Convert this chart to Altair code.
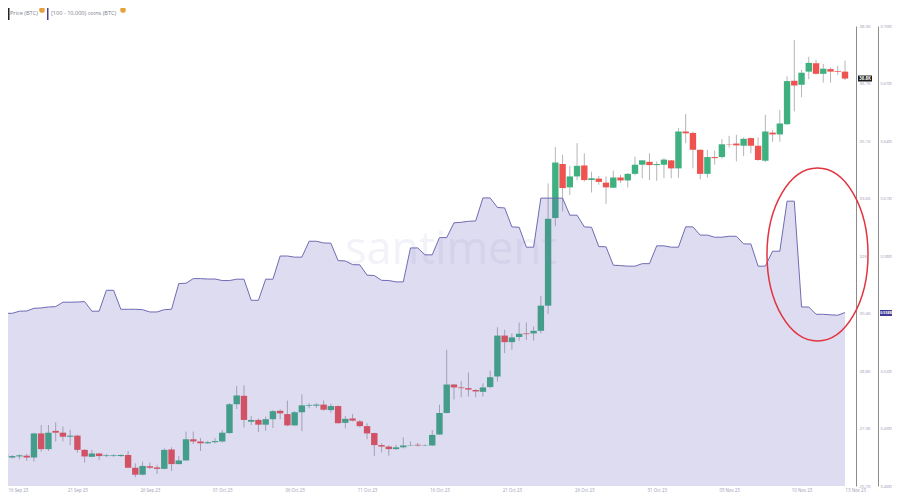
import altair as alt
import pandas as pd

OPEN = [26.57,26.48,26.51,26.53,26.48,27.14,26.71,27.21,27.16,27.05,27.08,26.69,26.50,26.59,26.52,26.52,26.52,26.55,26.20,26.01,
26.24,26.21,26.17,26.70,26.30,26.40,26.98,26.92,26.87,26.90,26.92,27.15,27.94,28.17,27.46,27.51,27.38,27.53,27.76,27.67,
27.36,27.72,27.90,27.90,27.93,27.78,27.89,27.43,27.55,27.47,27.34,27.15,26.82,26.78,26.71,26.76,26.81,26.83,26.80,26.81,
27.11,27.70,28.48,28.40,28.38,28.33,28.28,28.41,28.70,29.82,29.64,29.78,29.88,29.88,29.95,30.64,33.04,34.52,33.88,34.18,
34.48,34.08,34.12,34.01,33.87,34.15,34.07,34.25,34.50,34.58,34.49,34.50,34.62,34.40,35.41,35.37,34.91,34.25,34.71,34.71,
35.06,35.08,35.02,35.23,35.02,34.61,35.38,35.33,35.61,36.80,36.69,37.05,37.28,36.99,37.12,37.06,37.05]
CLOSE = [26.49,26.52,26.54,26.48,27.14,26.71,27.16,27.16,27.05,27.08,26.69,26.51,26.59,26.52,26.54,26.54,26.55,26.20,26.01,26.25,
26.20,26.17,26.69,26.30,26.40,26.98,26.92,26.87,26.90,26.93,27.16,27.94,28.18,27.51,27.51,27.38,27.53,27.75,27.69,27.36,
27.72,27.91,27.92,27.93,27.79,27.89,27.42,27.54,27.49,27.34,27.14,26.82,26.78,26.71,26.76,26.81,26.82,26.81,26.81,27.10,
27.70,28.48,28.40,28.38,28.34,28.29,28.40,28.68,29.82,29.64,29.77,29.87,29.86,29.95,30.64,33.02,34.56,33.86,34.18,34.47,
34.08,34.13,34.03,33.88,34.15,34.07,34.25,34.50,34.62,34.49,34.52,34.64,34.40,35.41,35.36,34.91,34.25,34.71,34.68,35.06,
35.05,35.03,35.21,35.02,34.63,35.41,35.33,35.63,36.79,36.67,37.02,37.29,36.99,37.13,37.05,37.04,36.86]
HIGH = [26.60,26.55,26.57,26.58,27.16,27.37,27.37,27.44,27.33,27.24,27.10,26.71,26.69,26.61,26.58,26.57,26.57,26.66,26.32,26.37,
26.34,26.28,26.73,26.76,26.52,27.19,27.19,27.01,26.94,27.01,27.23,27.97,28.44,28.46,27.62,27.55,27.60,27.78,27.80,28.04,
27.75,28.21,27.97,27.97,28.04,27.95,27.91,27.62,27.67,27.51,27.42,27.16,26.87,26.81,26.83,27.03,26.92,26.88,26.84,27.23,
27.93,29.43,28.49,28.57,28.81,28.35,28.51,28.86,30.05,29.98,29.88,30.18,30.18,30.07,30.91,33.99,34.98,34.77,34.47,35.09,
34.81,34.31,34.19,34.18,34.34,34.22,34.27,34.72,34.63,34.81,34.59,34.68,34.63,35.50,35.89,35.41,34.92,34.91,34.89,35.20,
35.29,35.32,35.25,35.25,35.25,35.87,35.45,36.00,36.92,37.92,37.10,37.46,37.37,37.26,37.16,37.21,37.35]
LOW = [26.46,26.45,26.43,26.39,26.37,26.64,26.66,26.92,26.92,26.82,26.61,26.34,26.49,26.41,26.49,26.50,26.50,26.19,25.94,25.99,
26.17,26.03,26.16,26.11,26.29,26.39,26.85,26.66,26.85,26.87,26.89,27.13,27.81,27.30,27.37,27.18,27.21,27.29,27.53,27.34,
27.35,27.20,27.83,27.84,27.76,27.71,27.41,27.28,27.47,27.31,26.98,26.52,26.62,26.53,26.69,26.73,26.80,26.78,26.79,26.80,
27.10,27.69,28.07,28.13,28.15,28.13,28.15,28.38,28.56,29.34,29.43,29.68,29.70,29.68,29.88,30.41,32.82,33.22,33.67,34.08,
34.04,33.74,33.95,33.43,33.86,34.00,33.88,34.21,34.13,34.08,34.06,34.13,34.13,34.14,35.09,34.40,34.10,34.15,34.50,34.67,
34.97,34.59,34.74,34.81,34.61,34.57,35.13,35.13,35.59,35.96,36.35,36.84,36.97,36.75,36.75,36.96,36.82]
SUPPLY = [.5581,.5581,.5592,.5593,.5607,.5609,.5614,.5616,.5639,.5639,.5640,.5642,.5592,.5592,.5701,.5701,.5602,.5602,.5602,.5600,
.5588,.5588,.5600,.5602,.5736,.5738,.5762,.5762,.5760,.5760,.5752,.5752,.5759,.5759,.5649,.5649,.5759,.5759,.5880,.5880,
.5874,.5874,.5957,.5957,.5948,.5947,.5856,.5854,.5835,.5834,.5780,.5778,.5753,.5752,.5745,.5745,.5922,.5922,.5886,.5886,
.5976,.5976,.6053,.6056,.6061,.6063,.6183,.6183,.6133,.6131,.6032,.6030,.5926,.5926,.6182,.6182,.6182,.6182,.6093,.6093,
.6032,.6030,.5929,.5928,.5832,.5830,.5827,.5827,.5840,.5840,.5933,.5933,.5926,.5926,.6032,.6032,.5989,.5989,.5978,.5978,
.5983,.5983,.5943,.5943,.5827,.5827,.5905,.5905,.6166,.6166,.5614,.5614,.5576,.5576,.5573,.5571,.5585]
PRICE_TICKS = [25.7,27.28,28.84,30.42,32.0,33.58,35.14,36.72,38.3]
SUPPLY_TICKS = [.468,.498,.528,.588,.618,.648,.678,.708]
SUPPLY_FLOOR = .468
DATE_TICKS = ["2023-09-16T05:00:00","2023-09-21T00:00:00","2023-09-26T00:00:00","2023-10-01T00:00:00","2023-10-06T00:00:00",
"2023-10-11T00:00:00","2023-10-16T00:00:00","2023-10-21T00:00:00","2023-10-26T00:00:00","2023-10-31T00:00:00",
"2023-11-05T00:00:00","2023-11-10T00:00:00","2023-11-13T00:00:00"]

UP, DOWN = "#3fb080", "#ef5350"
LABEL = "#9a9ab8"
FONT = "Open Sans"

times = [t.strftime("%Y-%m-%dT%H:%M:%S") for t in pd.date_range("2023-09-16", periods=len(OPEN), freq="12h")]
df = pd.DataFrame({"t": times, "o": OPEN, "c": CLOSE, "h": HIGH, "l": LOW, "s": SUPPLY, "b": SUPPLY_FLOOR})
df["dir"] = ["up" if c >= o else "down" for o, c in zip(OPEN, CLOSE)]

W, H = 837, 460
xenc = alt.X("t:T", title=None, scale=alt.Scale(domain=["2023-09-16T05:00:00", "2023-11-13T00:00:00"], padding=0, nice=False),
             axis=alt.Axis(values=DATE_TICKS, format="%d %b %y", grid=False, ticks=False, domain=False,
                           labelFont=FONT, labelFontSize=4.4, labelColor=LABEL, labelPadding=2.5, labelOverlap=False,
                           labelAlign={"condition": {"test": "datum.value <= time('2023-09-16T05:00:00') || datum.value >= time('2023-11-13T00:00:00')", "value": "left"}, "value": "center"}))
pscale = alt.Scale(domain=[25.7, 38.3], zero=False, nice=False)
paxis = alt.Axis(orient="right", offset=11, values=PRICE_TICKS, grid=False, ticks=False, title=None, domainColor="#8c8c8c", domainWidth=1,
                 labelFont=FONT, labelFontSize=4.3, labelColor=LABEL, labelPadding=3,
                 labelExpr="replace(format(datum.value,'.1f'),'.0','')+'K'")
sscale = alt.Scale(domain=[.468, .708], zero=False, nice=False)
saxis = alt.Axis(orient="right", offset=33, values=SUPPLY_TICKS, grid=False, ticks=False, title=None, domainColor="#8c8c8c", domainWidth=1,
                 labelFont=FONT, labelFontSize=3.9, labelColor=LABEL, labelPadding=2, format=".4f")

base = alt.Chart(df)
color = alt.Color("dir:N", legend=None, scale=alt.Scale(domain=["up", "down"], range=[UP, DOWN]))
wick = base.mark_rule(color="#b5b5b8", strokeWidth=1).encode(
    x=xenc, y=alt.Y("l:Q", scale=pscale, axis=paxis), y2="h:Q")
body = base.mark_bar(size=6.4).encode(x=xenc, y=alt.Y("o:Q", scale=pscale, axis=paxis), y2="c:Q", color=color)
price = alt.layer(wick, body)

area = base.mark_area(color="#5a4fb5", opacity=0.2).encode(
    x=xenc, y=alt.Y("s:Q", scale=sscale, axis=saxis), y2="b:Q")
line = base.mark_line(color="#6f6bb3", strokeWidth=1).encode(x=xenc, y=alt.Y("s:Q", scale=sscale, axis=saxis))
supply = alt.layer(area, line)

one = alt.Data(values=[{"a": 1}])
def px(v): return alt.value(v - 8)
def py(v): return alt.value(v - 26)
def text(s, x, y, size=5.6, color="#7b7f90", align="left", weight="normal", **kw):
    return alt.Chart(one).mark_text(text=s, font=FONT, fontSize=size, color=color, align=align, baseline="middle",
                                    fontWeight=weight, **kw).encode(x=px(x), y=py(y))
def rect(x0, x1, y0, y1, color):
    return alt.Chart(one).mark_rect(color=color).encode(x=px(x0), x2=px(x1), y=py(y0), y2=py(y1))
def dot(x, y):
    return alt.Chart(one).mark_point(filled=True, color="#e8a23c", opacity=1, size=32).encode(x=px(x), y=py(y))

ellipse = alt.Chart(one).mark_point(filled=False, color="#e2333f", opacity=1, strokeWidth=1.5,
    shape="M-0.584,0 A0.584,1 0 1,1 0.584,0 A0.584,1 0 1,1 -0.584,0 Z", size=29929).encode(x=px(817.5), y=py(254.5))

annots = [
    text("santiment", 451, 250, size=45, color="#8a86c8", align="center", opacity=0.1),
    ellipse,
    rect(8, 9.5, 8, 20, "#222222"), text("Price (BTC)", 10, 13),
    rect(47, 48.5, 8, 20, "#4a3f9f"), text("[100 - 10,000) coins (BTC)", 51, 13),
    dot(42, 10), dot(123, 10),
    rect(858, 872, 75.5, 81.5, "#1a1a1a"), text("36.8K", 865, 78.5, size=4.3, color="white", align="center", weight="bold"),
    rect(880, 892, 310, 316, "#3f3a94"), text("0.5588", 886, 313, size=3.7, color="white", align="center", weight="bold"),
]

chart = alt.layer(price, supply, *annots).resolve_scale(y="independent", color="independent").properties(
    width=W, height=H, background="white",
    autosize=alt.AutoSizeParams(type="none"),
    padding={"left": 0, "top": 18, "right": 47, "bottom": 8},
).configure_view(stroke=None)

chart.save("out.html", embed_options={"renderer": "svg", "actions": False})
